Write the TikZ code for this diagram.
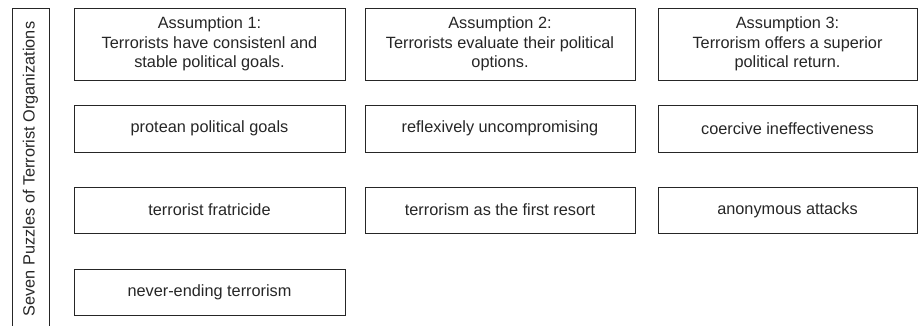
\documentclass[tikz,border=0pt]{standalone}
\usepackage{fontspec}
\setmainfont{Liberation Sans}
\begin{document}
\begin{tikzpicture}[x=1pt,y=-1pt,
  txt/.style={font=\fontsize{16.3}{19.5}\selectfont, text=black!85},
  box/.style={draw=black!85, line width=0.9pt, rectangle, inner sep=0pt, align=center, txt}]
\useasboundingbox (0,0) rectangle (919,326);
% left vertical bar
\coordinate (lbl) at (12,326);
\coordinate (ltl) at (12,8);
\coordinate (ltr) at (49,8);
\coordinate (lbr) at (49,326);
\draw[black!85, line width=0.9pt] (lbl) -- (ltl) -- (ltr) -- (lbr);
\node[rotate=90, txt] (side) at (30.5,169) {Seven Puzzles of Terrorist Organizations};
% row 1
\node[box, minimum width=271pt, minimum height=72pt] (a1) at (209.5,44) {Assumption 1:\\Terrorists have consistenl and\\stable political goals.};
\node[box, minimum width=270pt, minimum height=72pt] (a2) at (500,44) {Assumption 2:\\Terrorists evaluate their political\\options.};
\node[box, minimum width=259pt, minimum height=72pt] (a3) at (787.5,44) {Assumption 3:\\Terrorism offers a superior\\political return.};
% row 2
\node[box, minimum width=271pt, minimum height=47pt] (b1) at (209.5,128.5) {protean political goals};
\node[box, minimum width=270pt, minimum height=47pt] (b2) at (500,128.5) {reflexively uncompromising};
\node[box, minimum width=259pt, minimum height=47pt] (b3) at (787.5,128.5) {coercive ineffectiveness};
% row 3
\node[box, minimum width=271pt, minimum height=46pt] (c1) at (209.5,210) {terrorist fratricide};
\node[box, minimum width=270pt, minimum height=46pt] (c2) at (500,210) {terrorism as the first resort};
\node[box, minimum width=259pt, minimum height=46pt] (c3) at (787.5,210) {anonymous attacks};
% row 4
\node[box, minimum width=271pt, minimum height=46pt] (d1) at (209.5,292) {never-ending terrorism};
\end{tikzpicture}
\end{document}
